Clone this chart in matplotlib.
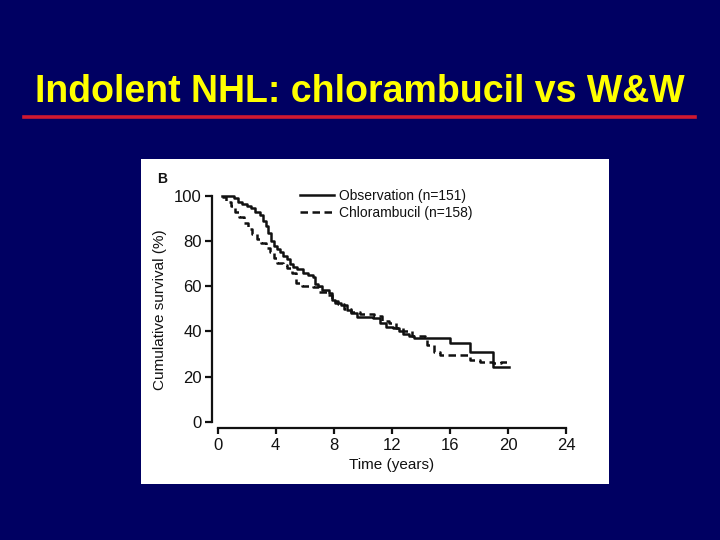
import matplotlib
matplotlib.use('Agg')
import matplotlib.pyplot as plt
from matplotlib.patches import Rectangle
from matplotlib.lines import Line2D

plt.rcParams['font.family'] = ['Liberation Sans', 'DejaVu Sans']

# Kaplan-Meier curves (years, % surviving)
obs_t = [0.3, 0.8, 1.1, 1.4, 1.7, 2.0, 2.3, 2.6, 2.9, 3.1, 3.3, 3.5, 3.7, 3.9,
         4.1, 4.3, 4.5, 4.75, 5.0, 5.2, 5.5, 5.9, 6.2, 6.6, 6.7, 6.9, 7.2, 7.7,
         7.9, 8.1, 8.5, 8.9, 9.2, 9.6, 10.7, 11.2, 11.6, 12.1, 12.5, 12.8, 13.2,
         13.5, 16.0, 17.4, 19.0, 20.1]
obs_s = [100, 100, 99, 97.5, 96.5, 95.5, 94.5, 93, 91.5, 89, 86.5, 83.5, 80, 78,
         76.5, 75, 73.5, 72, 70, 68.7, 67.5, 65.7, 65, 64, 61, 60, 58.3, 57,
         54, 52.4, 51.7, 49.5, 48, 46.5, 45.8, 43.6, 42, 41.4, 40, 39, 38,
         36.9, 34.7, 31, 24.4, 24.4]

chl_t = [0.3, 0.6, 0.9, 1.2, 1.5, 1.8, 2.1, 2.4, 2.7, 3.0, 3.3, 3.6, 3.9, 4.1,
         4.5, 4.8, 5.1, 5.4, 5.8, 6.6, 7.0, 7.5, 7.9, 8.3, 8.7, 9.2, 9.8, 10.8,
         11.3, 11.8, 12.3, 12.8, 13.4, 14.3, 14.4, 14.9, 15.3, 17.4, 18.1, 19.0,
         19.5, 20.1]
chl_s = [99.4, 97.5, 95.5, 93, 90.5, 88, 85.5, 83, 81, 79, 77, 75, 72.5, 70.5,
         69.5, 68, 66, 61.5, 60, 59.5, 57.5, 56, 53.5, 52, 50, 48.5, 47.5, 47,
         44.5, 43.5, 41.5, 40, 38, 37.5, 34, 31, 29.5, 27.3, 26.6, 25.8,
         26.5, 26.5]

labels = ['Observation (n=151)', 'Chlorambucil (n=158)']
xticks = [0, 4, 8, 12, 16, 20, 24]
yticks = [0, 20, 40, 60, 80, 100]

navy = '#000062'
ink = '#111111'

fig = plt.figure(figsize=(7.2, 5.4), dpi=100, facecolor=navy)

# slide title and red rule
fig.text(0.5, 1 - 101.7 / 540, 'Indolent NHL: chlorambucil vs W&W', color='#FFFF00',
         fontsize=27, fontweight='bold', ha='center', va='baseline')
fig.add_artist(Line2D([24 / 720, 695 / 720], [1 - 116.5 / 540] * 2, color='#D01830', lw=2.6))

# white inset panel (behind the axes)
fig.patches.append(Rectangle((141 / 720, 1 - 483.5 / 540), 468 / 720, 324.5 / 540,
                             transform=fig.transFigure, facecolor='white', edgecolor='none',
                             zorder=-5))
fig.text(157.5 / 720, 1 - 182.5 / 540, 'B', fontsize=10, fontweight='bold', color=ink)

ax = fig.add_axes([211.7 / 720, 1 - 428 / 540, 354.3 / 720, 238.8 / 540])
ax.set_facecolor('none')
ax.set_zorder(2)

ax.step(obs_t, obs_s, where='post', color=ink, lw=1.8, label=labels[0])
ax.step(chl_t, chl_s, where='post', color=ink, lw=1.8, ls=(0, (3, 1.8)), label=labels[1])

ax.set_xlim(-0.41, 24)
ax.set_ylim(-2.8, 103)
ax.set_xticks(xticks)
ax.set_yticks(yticks)
ax.spines['top'].set_visible(False)
ax.spines['right'].set_visible(False)
ax.spines['left'].set_bounds(0, 100)
ax.spines['bottom'].set_bounds(0, 24)
for s in ['left', 'bottom']:
    ax.spines[s].set_linewidth(1.6)
    ax.spines[s].set_color(ink)
ax.tick_params(axis='y', length=5, width=1.6, pad=2, labelsize=12, colors=ink)
ax.tick_params(axis='x', length=4, width=1.6, pad=3, labelsize=12, colors=ink)

ax.set_xlabel('Time (years)', fontsize=11, color=ink, va='center')
ax.set_ylabel('Cumulative survival (%)', fontsize=11, color=ink, va='center')
ax.xaxis.set_label_coords(0.508, -0.155)
ax.yaxis.set_label_coords(-0.146, 0.494)

ax.legend(loc='upper left', bbox_to_anchor=(0.25, 1.0), frameon=False, fontsize=10,
          handlelength=2.4, handletextpad=0.4, labelspacing=0.2, borderpad=0,
          borderaxespad=0, labelcolor=ink)

fig.savefig('out.png', dpi=100, facecolor=navy)
